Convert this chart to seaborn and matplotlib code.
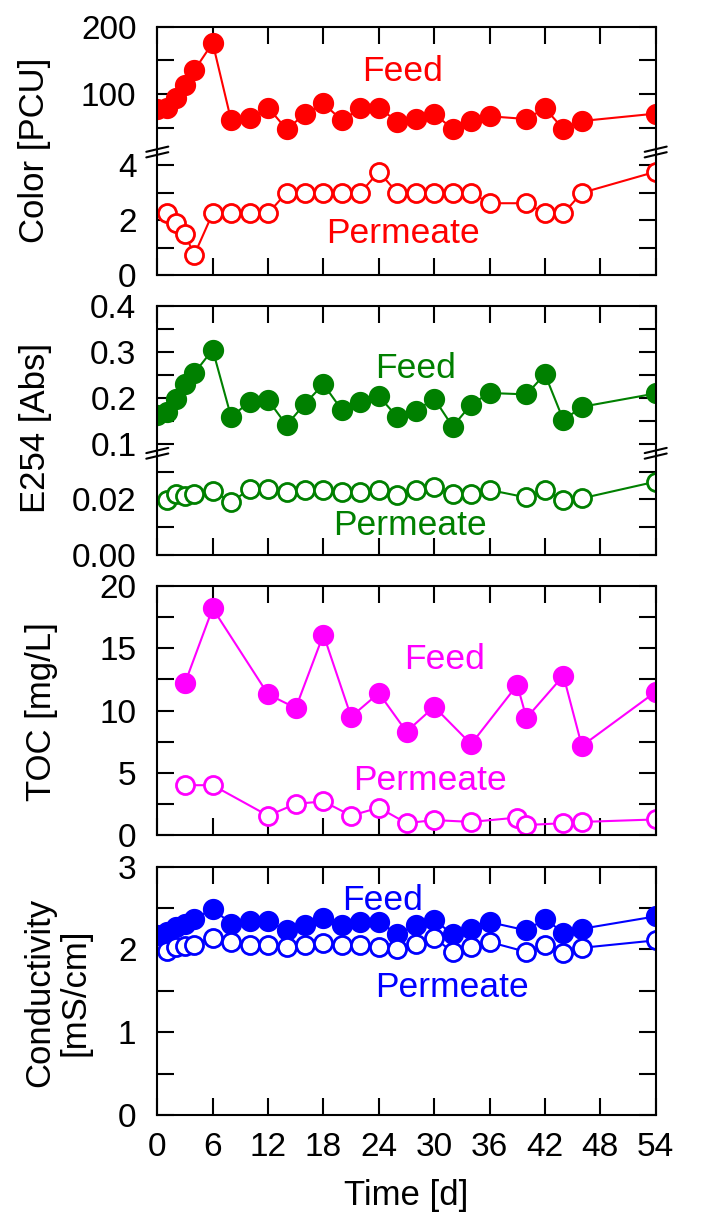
import matplotlib
matplotlib.use("Agg")
import matplotlib.pyplot as plt
import seaborn as sns
from matplotlib.lines import Line2D
from matplotlib.ticker import FixedLocator

# ---------------- data ----------------
days_feed = [0, 1, 2, 3, 4, 6, 8, 10, 12, 14, 16, 18, 20, 22, 24, 26, 28, 30, 32, 34, 36, 40, 42, 44, 46, 54]
days_perm = [1, 2, 3, 4, 6, 8, 10, 12, 14, 16, 18, 20, 22, 24, 26, 28, 30, 32, 34, 36, 40, 42, 44, 46, 54]

color_feed = [78, 80, 94, 113, 135, 176, 61, 64, 80, 48, 70, 86, 61, 79, 80, 59, 63, 71, 48, 60, 67, 63, 79, 48, 60, 71]
color_perm = [2.25, 1.89, 1.50, 0.73, 2.25, 2.25, 2.25, 2.25, 3.0, 3.0, 3.0, 3.0, 3.0, 3.77, 3.0, 3.0, 3.0, 3.0, 3.0,
              2.62, 2.62, 2.25, 2.25, 3.0, 3.77]

e254_feed = [0.163, 0.170, 0.199, 0.230, 0.254, 0.305, 0.159, 0.192, 0.196, 0.141, 0.188, 0.230, 0.174, 0.192, 0.204,
             0.159, 0.172, 0.199, 0.138, 0.186, 0.211, 0.208, 0.252, 0.152, 0.181, 0.210]
e254_perm = [0.0198, 0.0220, 0.0213, 0.0219, 0.0232, 0.0190, 0.0237, 0.0237, 0.0225, 0.0234, 0.0234, 0.0228, 0.0228,
             0.0234, 0.0216, 0.0234, 0.0243, 0.0218, 0.0219, 0.0234, 0.0207, 0.0234, 0.0198, 0.0204, 0.0264]

toc_days = [3, 6, 12, 15, 18, 21, 24, 27, 30, 34, 39, 40, 44, 46, 54]
toc_feed = [12.2, 18.2, 11.3, 10.2, 16.1, 9.5, 11.4, 8.3, 10.3, 7.3, 12.05, 9.4, 12.8, 7.15, 11.5]
toc_perm = [4.0, 4.0, 1.55, 2.5, 2.7, 1.55, 2.2, 0.95, 1.2, 1.05, 1.4, 0.8, 0.95, 1.05, 1.25]

cond_feed = [2.17, 2.21, 2.27, 2.31, 2.37, 2.49, 2.31, 2.34, 2.34, 2.23, 2.29, 2.38, 2.29, 2.33, 2.33, 2.19, 2.29,
             2.35, 2.19, 2.25, 2.33, 2.23, 2.37, 2.20, 2.25, 2.40]
cond_perm = [1.98, 2.03, 2.04, 2.06, 2.14, 2.09, 2.06, 2.05, 2.03, 2.05, 2.08, 2.05, 2.05, 2.03, 2.00, 2.07, 2.14,
             1.97, 2.03, 2.09, 1.97, 2.05, 1.96, 2.02, 2.11]

x_ticks = [0, 6, 12, 18, 24, 30, 36, 42, 48, 54]

RED, GREEN, MAG, BLUE = "#FF0000", "#008000", "#FF00FF", "#0000FF"

# ---------------- style ----------------
sns.set_style("white")
plt.rcParams["font.family"] = ["Liberation Sans", "DejaVu Sans"]
plt.rcParams["axes.linewidth"] = 1.5
for k in ("text.color", "axes.labelcolor", "xtick.color", "ytick.color", "axes.edgecolor"):
    plt.rcParams[k] = "black"

W_PX, H_PX = 702, 1221
fig = plt.figure(figsize=(W_PX / 100, H_PX / 100), dpi=100)

XL, XR = 157.3, 655.7
TICK_FS = 24
ANN_FS = 25.5
LAB_FS = 25


def add_ax(top_px, bot_px):
    return fig.add_axes([XL / W_PX, 1 - bot_px / H_PX, (XR - XL) / W_PX, (bot_px - top_px) / H_PX])


def style_ax(ax, ymaj, ymin, ylabels, top=True, bottom=True, xlabels=False):
    ax.set_xlim(0, 54)
    ax.set_xticks(x_ticks)
    if xlabels:
        ax.set_xticklabels([str(t) for t in x_ticks])
    else:
        ax.set_xticklabels([])
    ax.yaxis.set_major_locator(FixedLocator(ymaj))
    ax.set_yticklabels(ylabels)
    ax.yaxis.set_minor_locator(FixedLocator(ymin))
    ax.tick_params(axis="both", which="both", direction="in", length=12, width=1.5,
                   left=True, right=True, top=top, bottom=bottom, labelsize=TICK_FS, pad=15,
                   color="black", labelcolor="black")
    ax.tick_params(axis="x", which="both", pad=12)
    ax.tick_params(axis="x", which="minor", top=False, bottom=False)
    ax.spines["top"].set_visible(top)
    ax.spines["bottom"].set_visible(bottom)
    for s in ax.spines.values():
        s.set_color("black")
        s.set_linewidth(1.5)
    ax.set_xlabel("")
    ax.set_ylabel("")
    ax.patch.set_alpha(0)


def series(ax, x, y, color, filled):
    sns.lineplot(x=x, y=y, ax=ax, color=color, linewidth=1.5, marker="o",
                 markersize=14.3 if filled else 13.0,
                 markerfacecolor=color if filled else "white",
                 markeredgecolor=color, markeredgewidth=1.0 if filled else 2.0,
                 errorbar=None, sort=False, legend=False)


def break_marks(y_px):
    for xs in (XL, XR):
        for dy in (-2.8, 2.8):
            x0, x1 = xs - 11, xs + 11
            y0, y1 = y_px + 2.6 + dy, y_px - 2.6 + dy
            fig.add_artist(Line2D([x0 / W_PX, x1 / W_PX], [1 - y0 / H_PX, 1 - y1 / H_PX],
                                  color="black", linewidth=1.5, transform=fig.transFigure))


# ---------------- panel 1 : Color ----------------
a1t = add_ax(26.7, 152)
a1b = add_ax(152, 275)
series(a1t, days_feed, color_feed, RED, True)
series(a1b, days_perm, color_perm, RED, False)
a1t.set_ylim(14, 200)
a1b.set_ylim(0, 4.49)
style_ax(a1t, [100, 200], [50, 150], ["100", "200"], top=True, bottom=False)
style_ax(a1b, [0, 2, 4], [1, 3], ["0", "2", "4"], top=False, bottom=True)
a1t.text(26.6, 119.3, "Feed", color=RED, fontsize=ANN_FS, ha="center", va="baseline")
a1b.text(26.6, 1.17, "Permeate", color=RED, fontsize=ANN_FS, ha="center", va="baseline")
break_marks(152)

# ---------------- panel 2 : E254 ----------------
a2t = add_ax(306, 453.3)
a2b = add_ax(453.3, 555)
series(a2t, days_feed, e254_feed, GREEN, True)
series(a2b, days_perm, e254_perm, GREEN, False)
a2t.set_ylim(0.08, 0.40)
a2b.set_ylim(0, 0.0366)
style_ax(a2t, [0.1, 0.2, 0.3, 0.4], [0.15, 0.25, 0.35], ["0.1", "0.2", "0.3", "0.4"], top=True, bottom=False)
style_ax(a2b, [0.0, 0.02], [0.01, 0.03], ["0.00", "0.02"], top=False, bottom=True)
a2t.text(28.0, 0.2435, "Feed", color=GREEN, fontsize=ANN_FS, ha="center", va="baseline")
a2b.text(27.4, 0.0072, "Permeate", color=GREEN, fontsize=ANN_FS, ha="center", va="baseline")
break_marks(453.3)

# ---------------- panel 3 : TOC ----------------
a3 = add_ax(586, 835)
series(a3, toc_days, toc_feed, MAG, True)
series(a3, toc_days, toc_perm, MAG, False)
a3.set_ylim(0, 20)
style_ax(a3, [0, 5, 10, 15, 20], [2.5, 7.5, 12.5, 17.5], ["0", "5", "10", "15", "20"])
a3.text(31.1, 13.33, "Feed", color=MAG, fontsize=ANN_FS, ha="center", va="baseline")
a3.text(29.6, 3.61, "Permeate", color=MAG, fontsize=ANN_FS, ha="center", va="baseline")

# ---------------- panel 4 : Conductivity ----------------
a4 = add_ax(866.7, 1115)
series(a4, days_feed, cond_feed, BLUE, True)
series(a4, days_perm, cond_perm, BLUE, False)
a4.set_ylim(0, 3)
style_ax(a4, [0, 1, 2, 3], [0.5, 1.5, 2.5], ["0", "1", "2", "3"], xlabels=True)
a4.text(24.4, 2.48, "Feed", color=BLUE, fontsize=ANN_FS, ha="center", va="baseline")
a4.text(31.9, 1.425, "Permeate", color=BLUE, fontsize=ANN_FS, ha="center", va="baseline")

# ---------------- labels ----------------
def ftext(x_px, y_px, s, **kw):
    fig.text(x_px / W_PX, 1 - y_px / H_PX, s, fontsize=LAB_FS, ha="center", va="center", color="black", **kw)

ftext(35, 150, "Color [PCU]", rotation=90)
ftext(35, 428, "E254 [Abs]", rotation=90)
ftext(42, 712, "TOC [mg/L]", rotation=90)
ftext(57, 992, "Conductivity\n[mS/cm]", rotation=90, multialignment="center", linespacing=1.08)
ftext(406, 1195, "Time [d]")

fig.savefig("out.png", dpi=100)
